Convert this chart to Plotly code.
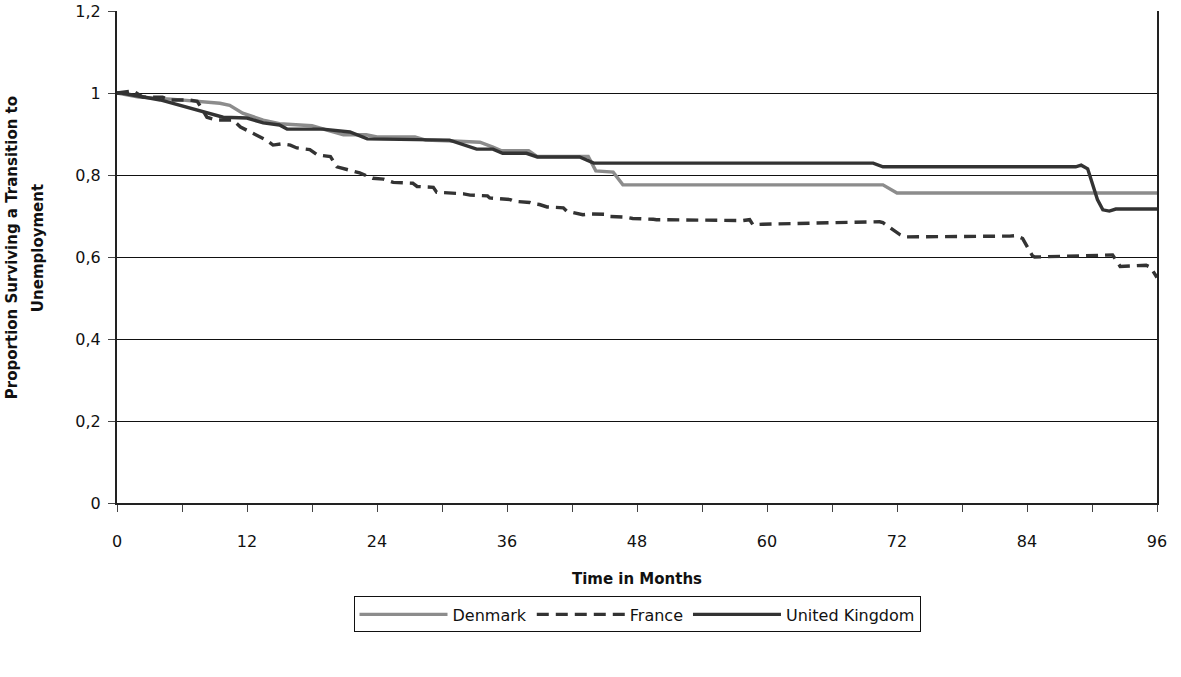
import plotly.graph_objects as go

# Denmark
dk_x = [0, 2, 5, 7, 9.5, 10.4, 11.6, 13.5, 15, 18, 20.9, 23, 24, 27.5, 28.5, 31, 33.5, 34.7, 35.5, 38, 38.8, 43.5, 44.2, 45.8, 46.7, 70.7, 72, 96]
dk_y = [1.0, 0.99, 0.985, 0.98, 0.975, 0.97, 0.951, 0.934, 0.925, 0.92, 0.898, 0.898, 0.893, 0.893, 0.885, 0.883, 0.88, 0.868, 0.859, 0.859, 0.845, 0.845, 0.81, 0.807, 0.776, 0.776, 0.756, 0.756]

# France
fr_x = [0, 1.5, 2.4, 4.2, 4.9, 6.7, 7.4, 8.3, 9.2, 10.7, 11.4, 13.8, 14.4, 15.2, 16, 16.6, 17.8, 18.5, 19.7, 20.3, 22.4, 23.6, 24.6, 25.5, 27.3, 27.7, 29.2, 29.5, 32, 32.6, 34.2, 34.4, 36.3, 36.6, 38.1, 38.4, 39, 39.7, 41.2, 41.5, 43, 43.7, 45.2, 45.5, 47, 47.6, 49.5, 49.8, 57.8, 58.4, 58.7, 59.6, 70.4, 70.7, 72.3, 72.7, 82.4, 83, 83.6, 84.5, 84.7, 91.9, 92.6, 95, 95.4, 96]
fr_y = [1.0, 1.005, 0.99, 0.99, 0.983, 0.983, 0.98, 0.941, 0.934, 0.934, 0.917, 0.885, 0.873, 0.876, 0.873, 0.866, 0.862, 0.849, 0.845, 0.82, 0.805, 0.792, 0.79, 0.782, 0.78, 0.772, 0.77, 0.758, 0.754, 0.751, 0.749, 0.744, 0.74, 0.736, 0.733, 0.73, 0.728, 0.722, 0.72, 0.712, 0.703, 0.705, 0.704, 0.699, 0.697, 0.694, 0.692, 0.691, 0.689, 0.691, 0.679, 0.68, 0.686, 0.684, 0.654, 0.649, 0.651, 0.652, 0.645, 0.603, 0.6, 0.605, 0.577, 0.58, 0.575, 0.55]

# United Kingdom
uk_x = [0, 0.4, 4, 8, 9.8, 12, 13.5, 15, 15.7, 19, 21.5, 23.1, 30.7, 33.2, 34.7, 35.6, 37.8, 38.8, 42.7, 44, 69.8, 70.7, 88.5, 89, 89.6, 90.5, 91, 91.6, 92.2, 96]
uk_y = [1.0, 1.0, 0.983, 0.954, 0.941, 0.939, 0.927, 0.922, 0.912, 0.912, 0.905, 0.888, 0.885, 0.863, 0.863, 0.853, 0.853, 0.844, 0.844, 0.829, 0.829, 0.82, 0.82, 0.824, 0.815, 0.74, 0.715, 0.712, 0.717, 0.717]

x_ticks = [0, 12, 24, 36, 48, 60, 72, 84, 96]
y_ticks = [0, 0.2, 0.4, 0.6, 0.8, 1.0, 1.2]
y_labels = ["0", "0,2", "0,4", "0,6", "0,8", "1", "1,2"]
y_title_lines = ["Proportion Surviving a Transition to", "Unemployment"]

font = "DejaVu Sans"

fig = go.Figure()
fig.add_trace(go.Scatter(x=dk_x, y=dk_y, mode="lines", name="Denmark",
                         line=dict(color="#8c8c8c", width=3.4)))
fig.add_trace(go.Scatter(x=fr_x, y=fr_y, mode="lines", name="France",
                         line=dict(color="#333333", width=3.4, dash="12px,7px")))
fig.add_trace(go.Scatter(x=uk_x, y=uk_y, mode="lines", name="United Kingdom",
                         line=dict(color="#333333", width=3.4)))

for txt, shift in zip(y_title_lines, [-105, -79]):
    fig.add_annotation(text="<b>" + txt + "</b>", xref="paper", yref="paper",
                       x=0, y=0.518, xshift=shift, textangle=-90, showarrow=False,
                       xanchor="center", yanchor="middle",
                       font=dict(size=15, family=font, color="#111111"))

fig.update_layout(
    width=1181, height=677,
    margin=dict(l=117, r=24, t=11, b=174),
    paper_bgcolor="white", plot_bgcolor="white",
    font=dict(family=font, size=16, color="#111111"),
    showlegend=True,
    legend=dict(orientation="h", x=0.5, xanchor="center", y=-0.19, yanchor="top",
                bordercolor="#111111", borderwidth=1, font=dict(size=16, family=font),
                itemwidth=88, tracegroupgap=0),
    xaxis=dict(range=[0, 96], tickvals=x_ticks, ticktext=[str(v) for v in x_ticks],
               showgrid=False, zeroline=False, showline=True, linecolor="#222222", linewidth=2,
               ticks="outside", ticklen=7, tickcolor="#444444",
               minor=dict(ticks="outside", dtick=6, ticklen=7, tickcolor="#444444"),
               tickfont=dict(size=16),
               title=dict(text="<b>Time in Months</b>", font=dict(size=15, family=font), standoff=23),
               ticklabelstandoff=16),
    yaxis=dict(range=[0, 1.2], tickvals=y_ticks, ticktext=y_labels,
               showgrid=True, gridcolor="#111111", gridwidth=1, zeroline=False,
               showline=True, linecolor="#222222", linewidth=2, mirror=True,
               ticks="outside", ticklen=7, tickcolor="#444444",
               tickfont=dict(size=16), ticklabelstandoff=4, automargin=False),
)

fig.write_html("out.html", config={"displayModeBar": False},
               post_script="document.body.style.margin='0px';")
